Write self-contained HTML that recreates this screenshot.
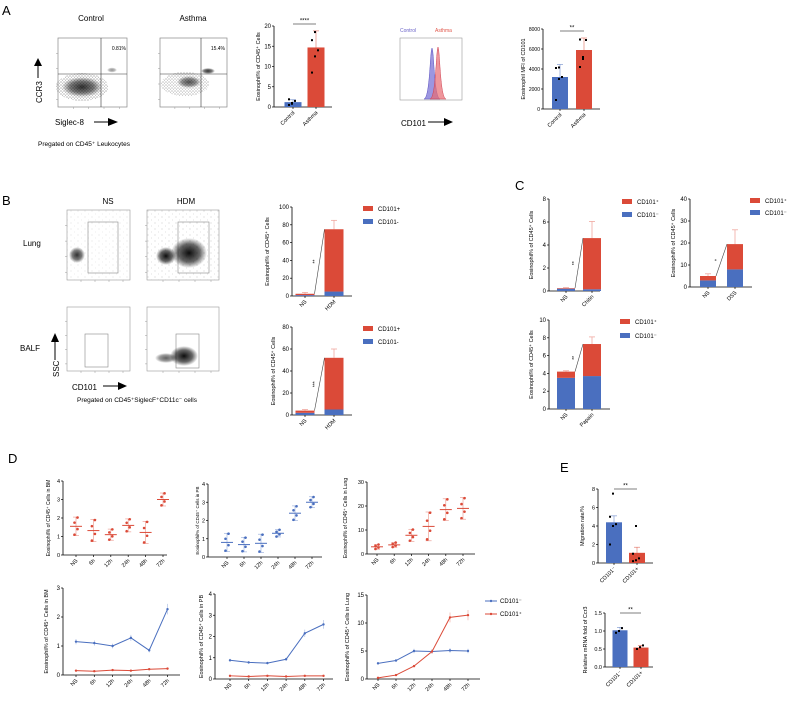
<!DOCTYPE html>
<html><head><meta charset="utf-8">
<style>
html,body{margin:0;padding:0;background:#fff;}
svg{display:block;font-family:"Liberation Sans",sans-serif;}
</style></head>
<body>
<svg id="fig" width="790" height="715" viewBox="0 0 790 715" xmlns="http://www.w3.org/2000/svg">
<defs>
<radialGradient id="blob"><stop offset="0" stop-color="#000" stop-opacity="0.95"/><stop offset="0.6" stop-color="#000" stop-opacity="0.6"/><stop offset="1" stop-color="#000" stop-opacity="0"/></radialGradient>
<pattern id="dots" width="3" height="3" patternUnits="userSpaceOnUse"><circle cx="1" cy="1" r="0.5" fill="#333"/><circle cx="2.4" cy="2.2" r="0.4" fill="#555"/></pattern>
<pattern id="sparse" width="7" height="6" patternUnits="userSpaceOnUse"><circle cx="1" cy="1" r="0.4" fill="#888"/><circle cx="4.5" cy="4" r="0.35" fill="#aaa"/></pattern>
</defs>
<text x="2" y="15" font-size="13">A</text>
<text x="2" y="205" font-size="13">B</text>
<text x="515" y="190" font-size="13">C</text>
<text x="8" y="463" font-size="13">D</text>
<text x="560" y="472" font-size="13">E</text>

<g>
<text x="91" y="21" font-size="8" text-anchor="middle">Control</text>
<rect x="58" y="38" width="69" height="69" fill="none" stroke="#888" stroke-width="0.7"/>
<ellipse cx="82" cy="87" rx="26" ry="14" fill="url(#dots)" opacity="0.9"/>
<ellipse cx="82" cy="87" rx="20" ry="10" fill="url(#blob)" opacity="0.85"/>
<ellipse cx="112" cy="70" rx="5" ry="2.5" fill="url(#blob)" opacity="0.45"/>
<line x1="101" y1="38" x2="101" y2="107" stroke="#333" stroke-width="0.6"/>
<line x1="58" y1="74" x2="127" y2="74" stroke="#333" stroke-width="0.6"/>
<text x="126" y="50" font-size="5" text-anchor="end">0.81%</text>
</g>
<g>
<text x="193" y="21" font-size="8" text-anchor="middle">Asthma</text>
<rect x="160" y="38" width="67" height="69" fill="none" stroke="#888" stroke-width="0.7"/>
<ellipse cx="185" cy="84" rx="24" ry="12" fill="url(#dots)" opacity="0.75"/>
<ellipse cx="189" cy="82" rx="12" ry="6" fill="url(#blob)" opacity="0.7"/>
<ellipse cx="208" cy="71" rx="7" ry="3" fill="url(#blob)" opacity="0.85"/>
<line x1="201" y1="38" x2="201" y2="107" stroke="#333" stroke-width="0.6"/>
<line x1="160" y1="74" x2="227" y2="74" stroke="#333" stroke-width="0.6"/>
<text x="225" y="50" font-size="5" text-anchor="end">15.4%</text>
</g>
<g>
<text x="42" y="103" font-size="8" transform="rotate(-90 42 103)">CCR3</text>
<line x1="38" y1="78" x2="38" y2="64" stroke="#000" stroke-width="1"/>
<polygon points="34,66 42,66 38,58" fill="#000"/>
<text x="55" y="125" font-size="8">Siglec-8</text>
<line x1="94" y1="122" x2="110" y2="122" stroke="#000" stroke-width="1"/>
<polygon points="108,118 108,126 118,122" fill="#000"/>
<text x="38" y="146" font-size="6.5">Pregated on CD45⁺ Leukocytes</text>
</g>

<g>
<text x="400" y="32" font-size="5" fill="#6a62c8">Control</text>
<text x="435" y="32" font-size="5" fill="#e0564a">Asthma</text>
<rect x="400" y="38" width="62" height="62" fill="none" stroke="#999" stroke-width="0.6"/>
<path d="M424,99 C430,98 430,50 432,48 C434,50 434,98 440,99 Z" fill="#7b73d6" fill-opacity="0.75" stroke="#5a50c0" stroke-width="0.5"/>
<path d="M430,99 C436,98 436,50 438,47 C440,50 440,98 446,99 Z" fill="#e86a70" fill-opacity="0.7" stroke="#d04050" stroke-width="0.5"/>
<text x="401" y="126" font-size="8">CD101</text>
<line x1="428" y1="122" x2="446" y2="122" stroke="#000" stroke-width="1"/>
<polygon points="444,118 444,126 453,122" fill="#000"/>
</g>

<g>
<text x="108" y="204" font-size="8" text-anchor="middle">NS</text>
<text x="186" y="204" font-size="8" text-anchor="middle">HDM</text>
<text x="23" y="246" font-size="8">Lung</text>
<text x="20" y="351" font-size="8">BALF</text>
<rect x="67" y="210" width="63" height="70" fill="url(#sparse)" opacity="0.6"/>
<rect x="67" y="210" width="63" height="70" fill="none" stroke="#999" stroke-width="0.6"/>
<rect x="88" y="222" width="30" height="51" fill="none" stroke="#888" stroke-width="0.6"/>
<ellipse cx="77" cy="255" rx="8" ry="8" fill="url(#blob)" opacity="0.85"/>
<rect x="147" y="210" width="72" height="70" fill="url(#sparse)"/>
<rect x="147" y="210" width="72" height="70" fill="none" stroke="#999" stroke-width="0.6"/>
<rect x="178" y="222" width="31" height="51" fill="none" stroke="#888" stroke-width="0.6"/>
<ellipse cx="166" cy="256" rx="10" ry="9" fill="url(#blob)"/>
<ellipse cx="189" cy="253" rx="18" ry="15" fill="url(#blob)"/>
<rect x="67" y="307" width="63" height="64" fill="none" stroke="#999" stroke-width="0.6"/>
<rect x="85" y="334" width="23" height="33" fill="none" stroke="#888" stroke-width="0.6"/>
<rect x="147" y="307" width="72" height="64" fill="none" stroke="#999" stroke-width="0.6"/>
<rect x="176" y="334" width="23" height="34" fill="none" stroke="#888" stroke-width="0.6"/>
<ellipse cx="184" cy="356" rx="14" ry="10" fill="url(#blob)"/>
<ellipse cx="166" cy="358" rx="11" ry="5" fill="url(#blob)" opacity="0.65"/>
<text x="59" y="377" font-size="8" transform="rotate(-90 59 377)">SSC</text>
<line x1="55" y1="360" x2="55" y2="340" stroke="#000" stroke-width="1"/>
<polygon points="51,342 59,342 55,333" fill="#000"/>
<text x="72" y="390" font-size="8">CD101</text>
<line x1="103" y1="386" x2="120" y2="386" stroke="#000" stroke-width="1"/>
<polygon points="118,382 118,390 127,386" fill="#000"/>
<text x="77" y="402" font-size="6.5">Pregated on CD45⁺SiglecF⁺CD11c⁻ cells</text>
</g>
<g id="charts"></g>
</svg>
<script>
const aCats = ["Control","Asthma"];
const aPct = [1.2, 14.7];
const aPctErr = [0.6, 4.1];
const aPctPts = [[0.5,1.0,1.5,1.9,0.8],[8.5,12.5,14.0,16.5,18.5]];
const aMfi = [3200, 5900];
const aMfiErr = [1250, 1200];
const aMfiPts = [[900,3000,3200,4100,4150],[4200,5200,6900,6950,5000]];

const bCats = ["NS","HDM"];
const bLungNeg = [1, 5];
const bLungPos = [1.5, 70];
const bLungErr = [1.5, 10];
const bBalfNeg = [2, 5];
const bBalfPos = [2, 47];
const bBalfErr = [1, 8];

const cChitinCats = ["NS","Chitin"];
const cChitinNeg = [0.2, 0.15];
const cChitinPos = [0.05, 4.45];
const cChitinErr = [0.05, 1.45];
const cDssCats = ["NS","DSS"];
const cDssNeg = [3, 8];
const cDssPos = [2, 11.5];
const cDssErr = [1, 6.5];
const cPapCats = ["NS","Papain"];
const cPapNeg = [3.5, 3.7];
const cPapPos = [0.7, 3.6];
const cPapErr = [0.1, 0.8];

const timeCats = ["NS","6h","12h","24h","48h","72h"];
const dBmMean = [1.55,1.32,1.1,1.6,1.22,3.0];
const dBmSd = [0.5,0.6,0.3,0.35,0.6,0.35];
const dPbMean = [0.8,0.68,0.75,1.3,2.4,3.0];
const dPbSd = [0.5,0.4,0.5,0.2,0.4,0.3];
const dLungMean = [3,3.8,7.8,11.5,18.5,19];
const dLungSd = [1,1,2.5,6,4.5,4.5];
const dBmNeg = [1.15,1.1,1.0,1.28,0.85,2.27];
const dBmPos = [0.15,0.13,0.17,0.15,0.2,0.22];
const dPbNeg = [0.88,0.78,0.75,0.93,2.15,2.57];
const dPbPos = [0.15,0.12,0.15,0.12,0.15,0.15];
const dLungNeg = [2.8,3.3,5.0,4.9,5.1,5.0];
const dLungPos = [0.2,0.7,2.3,4.9,11,11.4];

const eCats = ["CD101⁻","CD101+"];
const eMig = [4.4, 1.1];
const eMigErr = [0.7, 0.6];
const eMigPts = [[2,4,4.2,5,7.5],[0.2,0.3,0.5,1,4]];
const eMrna = [1.02, 0.54];
const eMrnaErr = [0.08, 0.06];
const eMrnaPts = [[0.95,1.0,1.08],[0.5,0.55,0.6]];

const BLUE="#4a6fbf", RED="#db4a38";
const NS="http://www.w3.org/2000/svg";
const root=document.getElementById('charts');
function mk(tag,attrs,parent){const e=document.createElementNS(NS,tag);for(const k in attrs)e.setAttribute(k,attrs[k]);(parent||root).appendChild(e);return e;}
function txt(s,x,y,size,parent,anchor,rot,fill){const t=mk('text',{x:x,y:y,'font-size':size,'text-anchor':anchor||'start',fill:fill||'#000'},parent);if(rot!==undefined)t.setAttribute('transform','rotate('+rot+' '+x+' '+y+')');t.textContent=s;return t;}

function axes(g,f,title){
  const ys=v=>f.y0-v/f.max*(f.y0-f.ytop);
  mk('line',{x1:f.x0,y1:f.y0,x2:f.x0,y2:f.ytop,stroke:'#000','stroke-width':0.8},g);
  mk('line',{x1:f.x0,y1:f.y0,x2:f.xend,y2:f.y0,stroke:'#000','stroke-width':0.8},g);
  f.ticks.forEach(t=>{mk('line',{x1:f.x0-2,y1:ys(t),x2:f.x0,y2:ys(t),stroke:'#000','stroke-width':0.7},g);
    txt(f.fmt?f.fmt(t):String(t),f.x0-3,ys(t)+2,f.fs||6,g,'end');});
  if(title)txt(title,f.tx,(f.y0+f.ytop)/2,f.tfs||5.5,g,'middle',-90);
  return ys;
}
function catLabels(g,f,cats,xs){cats.forEach((c,i)=>{mk('line',{x1:xs[i],y1:f.y0,x2:xs[i],y2:f.y0+2,stroke:'#000','stroke-width':0.7},g);
  txt(c,xs[i]+2,f.y0+6,f.cfs||5.5,g,'end',-45);});}

function barChart(name,f,cats,xs,vals,errs,pts,colors,bw,title,sig){
  const g=mk('g',{});
  
  
  const ys=axes(g,f,title);
  vals.forEach((v,i)=>{
    const r=mk('rect',{x:xs[i]-bw/2,y:ys(v),width:bw,height:f.y0-ys(v),fill:colors[i]},g);
    
    
    const top=ys(v+errs[i]);
    mk('line',{x1:xs[i],y1:ys(v),x2:xs[i],y2:top,stroke:colors[i],'stroke-width':0.8,opacity:0.6},g);
    mk('line',{x1:xs[i]-3,y1:top,x2:xs[i]+3,y2:top,stroke:colors[i],'stroke-width':0.8,opacity:0.6},g);
    if(pts)pts[i].forEach((p,j)=>{const c=mk('rect',{x:xs[i]-4+(j%3)*3-1,y:ys(p)-1,width:2,height:2,fill:'#000'},g);
      
      });
  });
  catLabels(g,f,cats,xs);
  if(sig){mk('line',{x1:xs[0],y1:sig.y,x2:xs[1],y2:sig.y,stroke:'#000','stroke-width':0.6},g);txt(sig.t,(xs[0]+xs[1])/2,sig.y-1.5,6,g,'middle');}
  return g;
}

function stackChart(name,f,cats,xs,neg,pos,errs,bw,title,sig,leg,sup){
  const g=mk('g',{});
  
  
  const ys=axes(g,f,title);
  neg.forEach((n,i)=>{
    const tot=n+pos[i];
    const top=ys(tot+errs[i]);
    mk('line',{x1:xs[i],y1:ys(tot),x2:xs[i],y2:top,stroke:'#f0a8a0','stroke-width':0.8},g);
    mk('line',{x1:xs[i]-3,y1:top,x2:xs[i]+3,y2:top,stroke:'#f0a8a0','stroke-width':0.8},g);
    const rb=mk('rect',{x:xs[i]-bw/2,y:ys(n),width:bw,height:f.y0-ys(n),fill:BLUE},g);
    
    
    const rp=mk('rect',{x:xs[i]-bw/2,y:ys(tot),width:bw,height:ys(n)-ys(tot),fill:RED},g);
    
    
  });
  mk('line',{x1:xs[0]+bw/2,y1:ys(neg[0]+pos[0]),x2:xs[1]-bw/2,y2:ys(neg[1]+pos[1]),stroke:'#444','stroke-width':0.6},g);
  txt(sig,(xs[0]+xs[1])/2-3,(ys(neg[0]+pos[0])+ys(neg[1]+pos[1]))/2,5,g,'middle',-90);
  catLabels(g,f,cats,xs);
  const lp=mk('g',{},g);
  mk('rect',{x:leg.x,y:leg.y-4,width:10,height:5,fill:RED},lp);
  txt(sup?'CD101⁺':'CD101+',leg.x+15,leg.y+1,6,lp);
  mk('rect',{x:leg.x,y:leg.y+leg.dy-4,width:10,height:5,fill:BLUE},lp);
  txt(sup?'CD101⁻':'CD101-',leg.x+15,leg.y+leg.dy+1,6,lp);
}

function scatterChart(name,f,cats,x0,step,mean,sd,color,title){
  const g=mk('g',{});
  
  
  const ys=axes(g,f,title);
  const xs=cats.map((c,i)=>x0+i*step);
  mean.forEach((m,i)=>{
    mk('line',{x1:xs[i]-6,y1:ys(m),x2:xs[i]+6,y2:ys(m),stroke:color,'stroke-width':1},g);
    mk('line',{x1:xs[i],y1:ys(m-sd[i]),x2:xs[i],y2:ys(m+sd[i]),stroke:color,'stroke-width':0.6,opacity:0.6},g);
    [m-sd[i],m+sd[i]].forEach(v=>mk('line',{x1:xs[i]-3,y1:ys(v),x2:xs[i]+3,y2:ys(v),stroke:color,'stroke-width':0.6,opacity:0.6},g));
    [m-sd[i]*0.9,m-sd[i]*0.3,m+sd[i]*0.4,m+sd[i]*0.95].forEach((v,j)=>{const c=mk('circle',{cx:xs[i]+(j%2?1.5:-1.5),cy:ys(Math.max(v,0)),r:1.3,fill:color},g);
      
      });
  });
  catLabels(g,f,cats,xs);
}

function lineChart(name,f,cats,x0,step,neg,pos,title){
  const g=mk('g',{});
  
  
  const ys=axes(g,f,title);
  const xs=cats.map((c,i)=>x0+i*step);
  [[neg,BLUE],[pos,RED]].forEach(([s,col])=>{
    const p=mk('polyline',{points:s.map((v,i)=>xs[i]+','+ys(v)).join(' '),fill:'none',stroke:col,'stroke-width':1},g);
    
    
    s.forEach((v,i)=>{mk('circle',{cx:xs[i],cy:ys(v),r:1.2,fill:col},g);
      const e=v*0.08;mk('line',{x1:xs[i],y1:ys(v-e),x2:xs[i],y2:ys(v+e),stroke:col,'stroke-width':0.6,opacity:0.5},g);});
  });
  catLabels(g,f,cats,xs);
}

// flow-plot tick marks (decorative)
(function(){const g=mk('g',{});


[[58,38,69,69],[160,38,67,69],[67,210,63,70],[147,210,72,70],[67,307,63,64],[147,307,72,64]].forEach(b=>{
  for(let k=1;k<=4;k++){const x=b[0]+b[2]*k/4.5,y=b[1]+b[3]*k/4.5;
    mk('line',{x1:x,y1:b[1]+b[3],x2:x,y2:b[1]+b[3]+2,stroke:'#999','stroke-width':0.5},g);
    mk('line',{x1:b[0]-2,y1:y,x2:b[0],y2:y,stroke:'#999','stroke-width':0.5},g);}
});})();

const T="Eosinophil% of CD45⁺ Cells";
barChart('chart-a-percent',{x0:274,y0:107,ytop:26,xend:332,max:20,ticks:[0,5,10,15,20],tx:260},aCats,[293,316],aPct,aPctErr,aPctPts,[BLUE,RED],17,T,{y:24,t:'****'});
barChart('chart-a-mfi',{x0:543,y0:109,ytop:29,xend:600,max:8000,ticks:[0,2000,4000,6000,8000],tx:525,fs:5},aCats,[560,584],aMfi,aMfiErr,aMfiPts,[BLUE,RED],16,'Eosinophil MFI of CD101',{y:31,t:'**'});
stackChart('chart-b-lung',{x0:292,y0:296,ytop:207,xend:352,max:100,ticks:[0,20,40,60,80,100],tx:269},bCats,[305,334],bLungNeg,bLungPos,bLungErr,19,T,'**',{x:363,y:210,dy:13},false);
stackChart('chart-b-balf',{x0:292,y0:415,ytop:327,xend:352,max:80,ticks:[0,20,40,60,80],tx:275},bCats,[305,334],bBalfNeg,bBalfPos,bBalfErr,19,T,'***',{x:363,y:330,dy:13},false);
stackChart('chart-c-chitin',{x0:549,y0:291,ytop:199,xend:600,max:8,ticks:[0,2,4,6,8],tx:533},cChitinCats,[566,592],cChitinNeg,cChitinPos,cChitinErr,18,T,'**',{x:622,y:203,dy:13},true);
stackChart('chart-c-dss',{x0:690,y0:287,ytop:199,xend:752,max:40,ticks:[0,10,20,30,40],tx:675},cDssCats,[708,735],cDssNeg,cDssPos,cDssErr,16,T,'*',{x:750,y:202,dy:12},true);
stackChart('chart-c-papain',{x0:549,y0:409,ytop:320,xend:610,max:10,ticks:[0,2,4,6,8,10],tx:533},cPapCats,[566,592],cPapNeg,cPapPos,cPapErr,18,T,'**',{x:620,y:323,dy:14},true);
scatterChart('chart-d-bm-scatter',{x0:63,y0:555,ytop:481,xend:167,max:4,ticks:[0,1,2,3,4],tx:50,fs:5.5,tfs:5},timeCats,76,17.4,dBmMean,dBmSd,RED,'Eosinophil% of CD45⁺ Cells in BM');
scatterChart('chart-d-pb-scatter',{x0:208,y0:557,ytop:484,xend:322,max:4,ticks:[0,1,2,3,4],tx:199,fs:5.5,tfs:4.5},timeCats,227,17,dPbMean,dPbSd,BLUE,'Eosinophil% of CD45⁺ Cells in PB');
scatterChart('chart-d-lung-scatter',{x0:367,y0:554,ytop:482,xend:475,max:30,ticks:[0,10,20,30],tx:347,fs:5.5,tfs:5},timeCats,377,17.2,dLungMean,dLungSd,RED,'Eosinophil% of CD45⁺ Cells in Lung');
lineChart('chart-d-bm-line',{x0:63,y0:675,ytop:588,xend:180,max:3,ticks:[0,1,2,3],tx:48,tfs:5.5},timeCats,76,18.3,dBmNeg,dBmPos,'Eosinophil% of CD45⁺ Cells in BM');
lineChart('chart-d-pb-line',{x0:215,y0:679,ytop:594,xend:333,max:4,ticks:[0,1,2,3,4],tx:203,tfs:5.5},timeCats,230,18.7,dPbNeg,dPbPos,'Eosinophil% of CD45⁺ Cells in PB');
lineChart('chart-d-lung-line',{x0:367,y0:679,ytop:595,xend:480,max:15,ticks:[0,5,10,15],tx:349,tfs:5.5},timeCats,378,18,dLungNeg,dLungPos,'Eosinophil% of CD45⁺ Cells in Lung');
(function(){const g=mk('g',{});


mk('line',{x1:485,y1:601,x2:497,y2:601,stroke:BLUE,'stroke-width':1},g);mk('circle',{cx:491,cy:601,r:1.2,fill:BLUE},g);txt('CD101⁻',500,603,6,g);
mk('line',{x1:485,y1:614,x2:497,y2:614,stroke:RED,'stroke-width':1},g);mk('circle',{cx:491,cy:614,r:1.2,fill:RED},g);txt('CD101⁺',500,616,6,g);})();
barChart('chart-e-migration',{x0:598,y0:563,ytop:489,xend:653,max:8,ticks:[0,2,4,6,8],tx:584,fs:5.5,cfs:5.5},eCats,[614,637],eMig,eMigErr,eMigPts,[BLUE,RED],16,'Migration rate/%',{y:489,t:'**'});
barChart('chart-e-mrna',{x0:605,y0:667,ytop:613,xend:653,max:1.5,ticks:[0,0.5,1,1.5],fmt:v=>v.toFixed(1),tx:587,fs:5.5,cfs:5.5},eCats,[620,641],eMrna,eMrnaErr,eMrnaPts,[BLUE,RED],15,'Relative mRNA fold of Ccr3',{y:613,t:'**'});
</script>
</body></html>
